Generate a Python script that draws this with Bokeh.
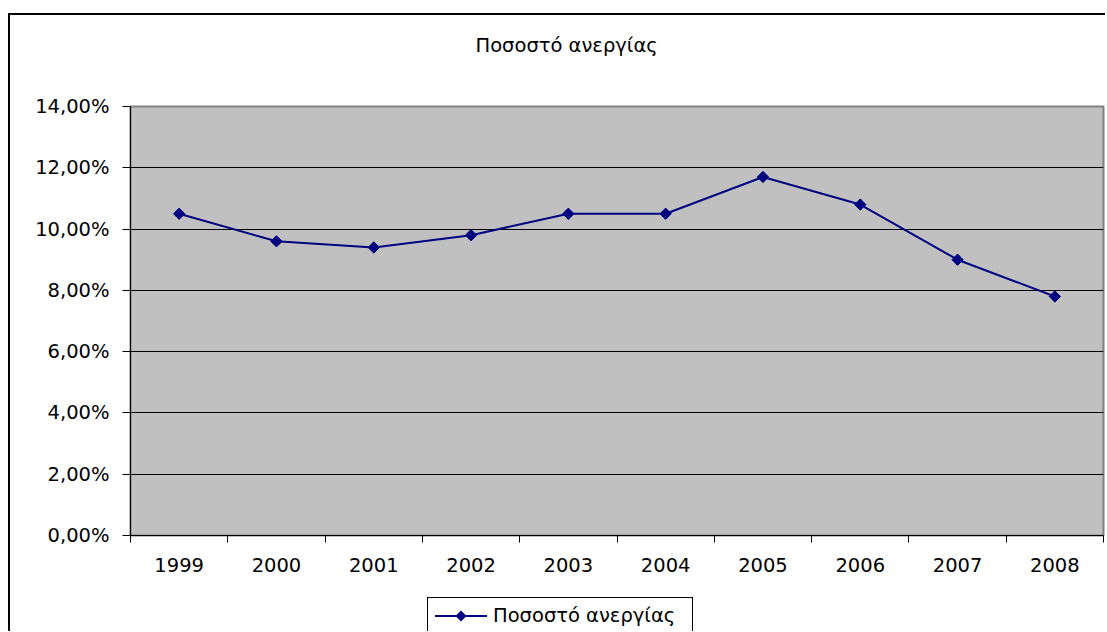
import math
from bokeh.plotting import figure
from bokeh.layouts import column
from bokeh.models import (FixedTicker, CustomJSTickFormatter, Range1d,
                          BasicTickFormatter, Title, Div)
from bokeh.embed import file_html
from bokeh.resources import INLINE

years = [1999, 2000, 2001, 2002, 2003, 2004, 2005, 2006, 2007, 2008]
rate = [10.5, 9.6, 9.4, 9.8, 10.5, 10.5, 11.7, 10.8, 9.0, 7.8]
y_ticks = [0, 2, 4, 6, 8, 10, 12, 14]
title_text = "Ποσοστό ανεργίας"
series_name = "Ποσοστό ανεργίας"

FONT = "DejaVu Sans"
FS = "19.5px"
LINE_COLOR = "#000080"

p = figure(title=None, frame_width=973, frame_height=429, min_border_left=120, min_border_right=2,
           min_border_top=0, min_border_bottom=60,
           x_range=Range1d(years[0] - 0.5, years[-1] + 0.5), y_range=Range1d(0, 14),
           output_backend="svg", toolbar_location=None, tools="")

# spacer between title and plot area (closest to frame), then the real title
p.add_layout(Title(text=" ", text_font_size="1px", standoff=30), "above")
p.add_layout(Title(text=title_text, text_font=FONT, text_font_size=FS,
                   text_font_style="normal", text_color="black",
                   align="left", offset=345, standoff=33), "above")

p.background_fill_color = "#C0C0C0"
p.border_fill_color = "white"
p.outline_line_color = "#808080"
p.outline_line_width = 2

# x axis
xa = p.xaxis[0]
xa.ticker = FixedTicker(ticks=years, minor_ticks=[y - 0.5 for y in years] + [years[-1] + 0.5])
xa.formatter = BasicTickFormatter(use_scientific=False)
xa.major_tick_out = 0
xa.major_tick_in = 0
xa.minor_tick_out = 7
xa.minor_tick_in = 0
xa.minor_tick_line_color = "black"
xa.axis_line_color = "black"
xa.major_label_text_font = FONT
xa.major_label_text_font_size = FS
xa.major_label_text_color = "black"
xa.major_label_standoff = 15

# y axis
ya = p.yaxis[0]
ya.ticker = FixedTicker(ticks=y_ticks, minor_ticks=[])
ya.formatter = CustomJSTickFormatter(code="return tick.toFixed(2).replace('.', ',') + '%';")
ya.major_tick_out = 8
ya.major_tick_in = 0
ya.major_tick_line_color = "black"
ya.axis_line_color = "black"
ya.major_label_text_font = FONT
ya.major_label_text_font_size = FS
ya.major_label_text_color = "black"
ya.major_label_standoff = 13

p.xgrid.visible = False
p.ygrid.grid_line_color = "black"
p.ygrid.grid_line_width = 1
p.ygrid.ticker = FixedTicker(ticks=y_ticks)

ln = p.line(years, rate, line_color=LINE_COLOR, line_width=2)
mk = p.scatter(years, rate, marker="square", angle=math.pi / 4, size=8,
               fill_color=LINE_COLOR, line_color=LINE_COLOR)

legend_html = (
    '<div style="box-sizing:border-box; width:266px; height:34px; background:white;'
    ' border-top:1px solid black; border-left:1px solid black; border-right:1px solid black;'
    ' display:flex; align-items:center; padding-left:7px; padding-top:2px;'
    f' font-family:\'{FONT}\'; font-size:{FS}; color:black; white-space:nowrap;">'
    '<svg width="52" height="14" style="flex:none">'
    f'<line x1="0" y1="7" x2="52" y2="7" stroke="{LINE_COLOR}" stroke-width="2"/>'
    f'<polygon points="26,1.5 31.5,7 26,12.5 20.5,7" fill="{LINE_COLOR}"/>'
    '</svg>'
    f'<span style="margin-left:6px">{series_name}</span>'
    '</div>'
)
legend_div = Div(text=legend_html, width=266, height=34, margin=(2, 0, 0, 417))

layout = column(p, legend_div, spacing=0,
                styles={"border-left": "2px solid black", "border-top": "2px solid black",
                        "margin-top": "13px", "margin-left": "8px"})

open("out.html", "w").write(file_html(layout, INLINE))
